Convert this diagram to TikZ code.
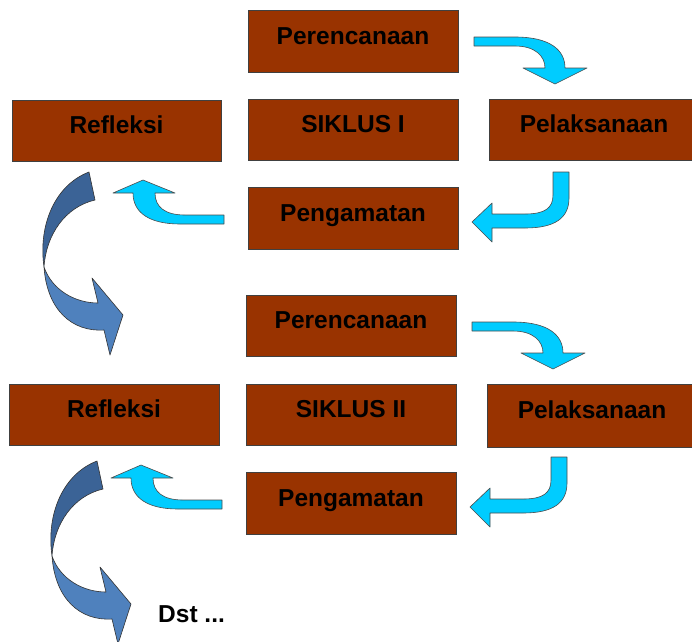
\documentclass[tikz,border=0pt]{standalone}
\usepackage{fontspec}
\setmainfont{Liberation Sans}
\definecolor{boxfill}{RGB}{153,51,0}
\definecolor{cyanarrow}{RGB}{0,204,255}
\definecolor{darkblue}{RGB}{59,99,150}
\definecolor{lightblue}{RGB}{79,129,189}
\tikzset{
  stagebox/.style={draw=black!75, line width=0.7pt, fill=boxfill, inner sep=0pt,
    minimum width=210pt, minimum height=62pt, text height=18pt, text depth=12pt,
    font=\fontsize{24.5}{28}\selectfont\bfseries, text=black},
  cyanshape/.style={fill=cyanarrow, draw=black!70, line width=0.6pt, line join=round},
  darkpart/.style={fill=darkblue, draw=black!80, line width=0.6pt, line join=round},
  lightpart/.style={fill=lightblue, draw=black!80, line width=0.6pt, line join=round},
  plaintext/.style={font=\fontsize{24.5}{28}\selectfont\bfseries, text=black, inner sep=0pt}
}
\begin{document}
\begin{tikzpicture}[x=1pt,y=-1pt]
\clip (0,0) rectangle (692,641);
\fill[white] (0,0) rectangle (692,641);

% ---------- Cycle I boxes ----------
\node[stagebox] (p1) at (353,41) {Perencanaan};
\node[stagebox, minimum width=209pt, minimum height=61pt] (r1) at (116.5,130.5) {Refleksi};
\node[stagebox, minimum height=61pt] (s1) at (353,129.5) {SIKLUS I};
\node[stagebox, minimum height=61pt] (l1) at (594,129.5) {Pelaksanaan};
\node[stagebox] (g1) at (353,218) {Pengamatan};

% ---------- Cycle II boxes ----------
\node[stagebox, minimum height=61pt] (p2) at (351,325.5) {Perencanaan};
\node[stagebox, minimum height=61pt] (r2) at (114,414.5) {Refleksi};
\node[stagebox, minimum height=61pt] (s2) at (351,414.5) {SIKLUS II};
\node[stagebox, minimum height=63pt] (l2) at (592,415.5) {Pelaksanaan};
\node[stagebox] (g2) at (351,503) {Pengamatan};

% ---------- Cyan arrows, cycle I ----------
\begin{scope}
  % Perencanaan -> Pelaksanaan
  \path[cyanshape] (474,37) -- (515,37) .. controls (550,37) and (565,50) .. (565,68)
    -- (587,68) -- (555,84) -- (523,68) -- (545,68)
    .. controls (545,56) and (535,46) .. (515,46) -- (474,46) -- cycle;
  % Pelaksanaan -> Pengamatan
  \path[cyanshape] (553,172) -- (569,172) -- (569,198)
    .. controls (569,218) and (555,228) .. (525,228) -- (492,228) -- (492,242)
    -- (472,222) -- (492,203) -- (492,214) -- (525,214)
    .. controls (545,214) and (553,208) .. (553,195) -- cycle;
  % Pengamatan -> Refleksi
  \path[cyanshape] (224,215) -- (185,215) .. controls (165,215) and (155,207) .. (155,193)
    -- (175,193) -- (143,180) -- (113,193) -- (133,193)
    .. controls (133,213) and (150,224) .. (180,224) -- (224,224) -- cycle;
\end{scope}

% ---------- Cyan arrows, cycle II ----------
\begin{scope}[shift={(-2,285)}]
  \path[cyanshape] (474,37) -- (515,37) .. controls (550,37) and (565,50) .. (565,68)
    -- (587,68) -- (555,84) -- (523,68) -- (545,68)
    .. controls (545,56) and (535,46) .. (515,46) -- (474,46) -- cycle;
  \path[cyanshape] (553,172) -- (569,172) -- (569,198)
    .. controls (569,218) and (555,228) .. (525,228) -- (492,228) -- (492,242)
    -- (472,222) -- (492,203) -- (492,214) -- (525,214)
    .. controls (545,214) and (553,208) .. (553,195) -- cycle;
  \path[cyanshape] (224,215) -- (185,215) .. controls (165,215) and (155,207) .. (155,193)
    -- (175,193) -- (143,180) -- (113,193) -- (133,193)
    .. controls (133,213) and (150,224) .. (180,224) -- (224,224) -- cycle;
\end{scope}

% ---------- Big curved arrow, cycle I ----------
\begin{scope}
  \path[darkpart] (89,172) -- (95,200)
    .. controls (65,207) and (46,235) .. (44,267)
    .. controls (38,225) and (55,185) .. (89,172) -- cycle;
  \path[lightpart] (44,267) .. controls (52,290) and (75,303) .. (98,303)
    -- (92,278) -- (123,315) -- (110,355) -- (104,330)
    .. controls (72,332) and (47,310) .. (44,267) -- cycle;
\end{scope}

% ---------- Big curved arrow, cycle II ----------
\begin{scope}[shift={(8,289)}]
  \path[darkpart] (89,172) -- (95,200)
    .. controls (65,207) and (46,235) .. (44,267)
    .. controls (38,225) and (55,185) .. (89,172) -- cycle;
  \path[lightpart] (44,267) .. controls (52,290) and (75,303) .. (98,303)
    -- (92,278) -- (123,315) -- (110,355) -- (104,330)
    .. controls (72,332) and (47,310) .. (44,267) -- cycle;
\end{scope}

\node[plaintext, anchor=base west] (dst) at (158,622) {Dst ...};
\end{tikzpicture}
\end{document}
